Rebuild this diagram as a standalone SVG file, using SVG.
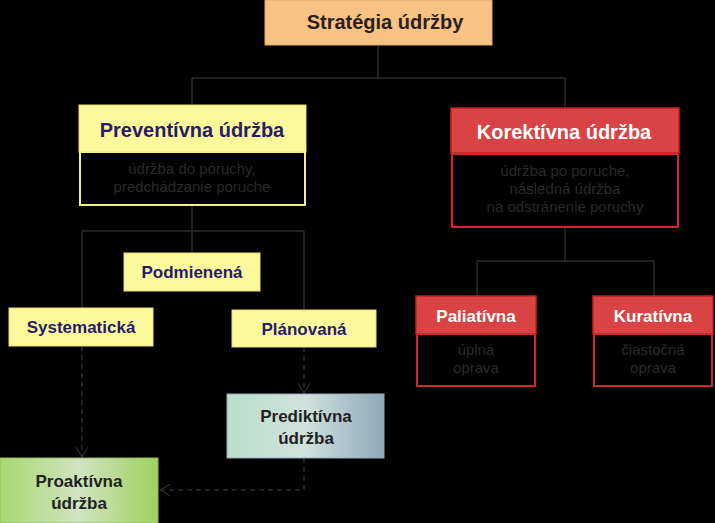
<svg xmlns="http://www.w3.org/2000/svg" width="715" height="523" viewBox="0 0 715 523">
<style>
text{font-family:"Liberation Sans",Arial,sans-serif;text-anchor:middle}
.h{font-weight:bold;font-size:20px}
.s{font-weight:bold;font-size:17px;fill:#2a1a6a}
.d{font-size:15px;fill:#2a2a2a}
.ln{stroke:#2c2c2c;stroke-width:1.5;fill:none}
.da{stroke:#2c2c2c;stroke-width:1.5;fill:none;stroke-dasharray:5,4}
.y{fill:#fafa9c;stroke:#e8e070;stroke-width:1}
.r{fill:#d94343;stroke:#c62020;stroke-width:1.5}
</style>
<defs>
<linearGradient id="gp" x1="0" x2="1"><stop offset="0" stop-color="#b8e0cc"/><stop offset="0.5" stop-color="#cfe2dc"/><stop offset="1" stop-color="#8fa8ba"/></linearGradient>
<linearGradient id="gg" x1="0" x2="1"><stop offset="0" stop-color="#a8d870"/><stop offset="0.5" stop-color="#cfe4c0"/><stop offset="1" stop-color="#a0d060"/></linearGradient>
<marker id="a" markerWidth="12" markerHeight="12" refX="10" refY="6" orient="auto" markerUnits="userSpaceOnUse"><path d="M0,0 L10,6 L0,12" fill="none" stroke="#2c2c2c" stroke-width="1.2"/></marker>
</defs>
<rect width="715" height="523" fill="#000"/>
<g id="connectors">
<path class="ln" d="M378,45 V78 M192,78 H565 M192,78 V105 M565,78 V108"/>
<path class="ln" d="M192,205 V253 M82,231 H304 M82,231 V308 M304,231 V310"/>
<path class="ln" d="M565,227 V261 M477,261 H654 M477,261 V296 M654,261 V296"/>
<path class="da" d="M82,346 V457" marker-end="url(#a)"/>
<path class="da" d="M304,347 V393" marker-end="url(#a)"/>
<path class="da" d="M304,458 V490 H160" marker-end="url(#a)"/>
</g>
<g id="strategia"><rect x="265" y="0" width="227" height="45" fill="#f8c283" stroke="#e0a860"/><text x="385" y="29" class="h" fill="#2a2020">Stratégia údržby</text></g>
<g id="preventivna"><rect x="79" y="105" width="227" height="47" class="y"/><text x="192" y="137" class="h" fill="#2a1a6a">Preventívna údržba</text>
<rect x="80" y="152" width="225" height="53" fill="#000" stroke="#f0f090" stroke-width="2"/><text x="192" y="174" class="d">údržba do poruchy,</text><text x="192" y="192" class="d">predchádzanie poruche</text></g>
<g id="korektivna"><rect x="451" y="108" width="228" height="45" class="r"/><text x="564" y="139" class="h" fill="#fff">Korektívna údržba</text>
<rect x="452" y="154" width="226" height="73" fill="#000" stroke="#d02828" stroke-width="2"/><text x="565" y="176" class="d">údržba po poruche,</text><text x="565" y="194" class="d">následná údržba</text><text x="565" y="212" class="d">na odstránenie poruchy</text></g>
<g id="podmienena"><rect x="124" y="253" width="136" height="38" class="y"/><text x="192" y="278" class="s">Podmienená</text></g>
<g id="systematicka"><rect x="9" y="308" width="144" height="38" class="y"/><text x="81" y="333" class="s">Systematická</text></g>
<g id="planovana"><rect x="232" y="310" width="144" height="37" class="y"/><text x="304" y="335" class="s">Plánovaná</text></g>
<g id="prediktivna"><rect x="227" y="394" width="157" height="64" fill="url(#gp)" stroke="#9ab"/><text x="306" y="422" class="s" fill="#222" style="fill:#222">Prediktívna</text><text x="306" y="444" class="s" style="fill:#222">údržba</text></g>
<g id="proaktivna"><rect x="0" y="458" width="158" height="65" fill="url(#gg)" stroke="#90c050"/><text x="79" y="487" class="s" style="fill:#222">Proaktívna</text><text x="79" y="509" class="s" style="fill:#222">údržba</text></g>
<g id="paliativna"><rect x="416" y="296" width="120" height="38" class="r"/><text x="476" y="322" class="s" style="fill:#fff">Paliatívna</text>
<rect x="417" y="334" width="118" height="52" fill="#000" stroke="#d02828" stroke-width="2"/><text x="476" y="355" class="d">úplná</text><text x="476" y="373" class="d">oprava</text></g>
<g id="kurativna"><rect x="593" y="296" width="120" height="38" class="r"/><text x="653" y="322" class="s" style="fill:#fff">Kuratívna</text>
<rect x="594" y="334" width="118" height="52" fill="#000" stroke="#d02828" stroke-width="2"/><text x="653" y="355" class="d">čiastočná</text><text x="653" y="373" class="d">oprava</text></g>
</svg>
